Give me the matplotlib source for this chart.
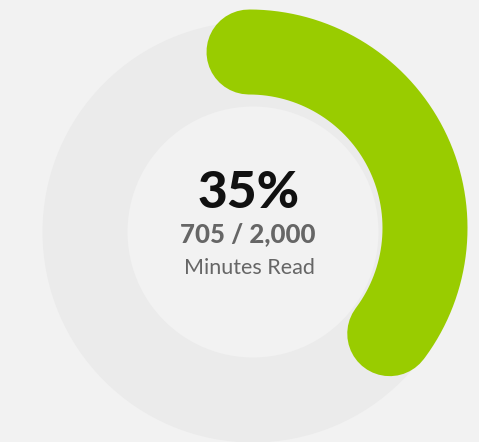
import matplotlib.pyplot as plt
from matplotlib.patches import Circle
import numpy as np

# progress data
minutes_read = 705
minutes_goal = 2000
label = "Minutes Read"

pct = minutes_read / minutes_goal

fig = plt.figure(figsize=(4.79, 4.42), dpi=100, facecolor="#f2f2f2")
ax = fig.add_axes([0, 0, 1, 1])
ax.set_xlim(0, 479)
ax.set_ylim(442, 0)
ax.set_aspect("equal")
ax.axis("off")

cx, cy, r = 249, 228, 176
ring_w = 85 * 72 / 100  # px -> pt

# faint background track (sits a little low/right, like a soft shadow)
ax.add_patch(Circle((253, 232), 168, fill=False, ec="#ebebeb", lw=ring_w, zorder=1))

# progress arc, clockwise from the top
t = np.linspace(0, 2 * np.pi * pct, 200)
ax.plot(cx + r * np.sin(t), cy - r * np.cos(t), color="#99cc00", lw=ring_w,
        solid_capstyle="round", zorder=2)

ax.text(cx, 193, f"{round(pct * 100)}%", ha="center", va="center",
        fontsize=37, fontweight="black", family="Lato", color="#111111")
ax.text(cx - 1, 234, f"{minutes_read:,} / {minutes_goal:,}", ha="center", va="center",
        fontsize=18.5, fontweight="black", family="Lato", color="#666666")
ax.text(cx, 268, label, ha="center", va="center",
        fontsize=15.5, family="Lato", color="#666666")

fig.savefig("out.png", dpi=100, facecolor=fig.get_facecolor())
